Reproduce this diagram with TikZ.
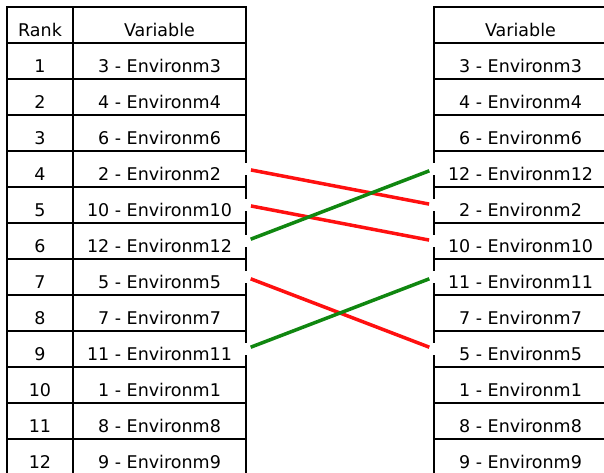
\documentclass[tikz,border=0pt]{standalone}
\usepackage{fontspec}
\setmainfont{DejaVu Sans}
\usetikzlibrary{positioning}
\definecolor{swapred}{RGB}{255,16,16}
\definecolor{swapgreen}{RGB}{16,135,16}

\tikzset{
  cell/.style={draw=black, line width=2pt, inner sep=0pt, outer sep=0pt, minimum height=36pt, text height=22pt, text depth=0pt, font=\fontsize{17.5}{20}\selectfont},
  rankcell/.style={cell, minimum width=66pt},
  varcell/.style={cell, minimum width=173pt},
  swapline/.style={line width=3.5pt, shorten <=5pt, shorten >=5pt}
}

\begin{document}
\begin{tikzpicture}[x=1pt, y=-1pt]
  \useasboundingbox (0,0) rectangle (604,472);
  \clip (0,0) rectangle (604,472);
  % left table: rank and variable
  \node[rankcell] (lrank0) at (40,25) {Rank};
  \node[varcell, right=0pt of lrank0] (lvar0) {Variable};
  \foreach \v [count=\i, remember=\i as \p (initially 0)] in {3,4,6,2,10,12,5,7,11,1,8,9} {
    \node[rankcell, below=0pt of lrank\p] (lrank\i) {\i};
    \node[varcell, right=0pt of lrank\i] (lvar\i) {\v\ - Environm\v};
  }
  % right table: new order
  \node[varcell] (rvar0) at (520.5,25) {Variable};
  \foreach \v [count=\i, remember=\i as \p (initially 0)] in {3,4,6,12,2,10,11,7,5,1,8,9} {
    \node[varcell, below=0pt of rvar\p] (rvar\i) {\v\ - Environm\v};
  }
  % small breaks in the borders where lines meet
  \foreach \k in {4,5,6,7,9} {
    \draw[white, line width=2.5pt] ([yshift=6pt]lvar\k.east) -- ([yshift=-6pt]lvar\k.east);
    \draw[white, line width=2.5pt] ([yshift=6pt]rvar\k.west) -- ([yshift=-6pt]rvar\k.west);
  }
  \draw[swapline, swapred] (lvar4.east) -- (rvar5.west);
  \draw[swapline, swapred] (lvar5.east) -- (rvar6.west);
  \draw[swapline, swapgreen] (lvar6.east) -- (rvar4.west);
  \draw[swapline, swapred] (lvar7.east) -- (rvar9.west);
  \draw[swapline, swapgreen] (lvar9.east) -- (rvar7.west);
\end{tikzpicture}
\end{document}
